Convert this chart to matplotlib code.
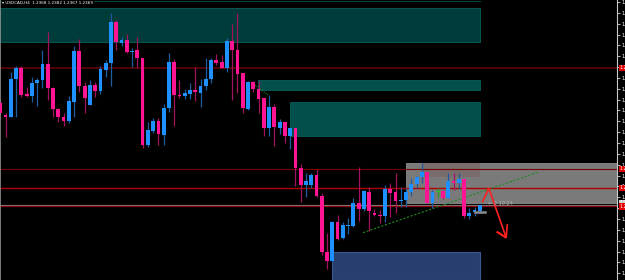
import numpy as np
import matplotlib
matplotlib.use("Agg")
import matplotlib.pyplot as plt
from matplotlib.patches import Rectangle
from matplotlib.ticker import MultipleLocator, FuncFormatter
from matplotlib.transforms import blended_transform_factory

TITLE = "\u25be USDCAD,H4  1.2368 1.2382 1.2367 1.2369"

# candles (0 = top edge of the chart)
opens = [103, 115, 117, 79, 68, 94, 96, 83, 80, 64, 88, 109, 117, 121, 102, 51, 86, 105, 85, 91,
         70, 63, 22, 43, 40, 52, 50, 58, 145, 131, 121, 135, 108, 62, 95, 96, 94, 90, 93, 86,
         79, 60, 62, 68, 41, 50, 73, 109, 82, 89, 98, 128, 107, 128, 122, 136, 128, 168, 185, 185,
         175, 196, 252, 261, 222, 238, 226, 226, 203, 209, 192, 213, 215, 216, 189, 192, 201, 200, 192, 184,
         177, 172, 203, 192, 191, 198, 181, 183, 179, 216, 212, 211]
highs = [100, 113, 72, 66, 66, 87, 77, 78, 50, 32, 87, 108, 113, 96, 46, 39, 82, 80, 82, 66,
         60, 13, 20, 37, 34, 48, 37, 58, 122, 118, 118, 104, 53, 59, 80, 89, 83, 67, 79, 58,
         58, 54, 55, 38, 24, 13, 73, 81, 81, 81, 98, 95, 104, 119, 122, 127, 128, 164, 173, 173,
         169, 193, 233, 221, 215, 222, 218, 198, 167, 190, 187, 209, 210, 185, 183, 173, 187, 188, 178, 176,
         163, 172, 190, 188, 190, 173, 173, 173, 179, 208, 207, 205]
lows = [115, 137, 117, 117, 97, 97, 102, 106, 88, 100, 117, 122, 126, 123, 117, 92, 113, 105, 97, 94,
        77, 86, 50, 46, 53, 67, 68, 148, 147, 133, 145, 145, 112, 126, 98, 99, 99, 101, 107, 90,
        83, 65, 68, 72, 100, 93, 113, 110, 92, 113, 136, 136, 146, 134, 143, 149, 186, 202, 197, 188,
        197, 255, 269, 262, 240, 239, 234, 227, 221, 211, 231, 216, 223, 222, 217, 213, 207, 207, 196, 188,
        183, 203, 208, 197, 199, 198, 190, 189, 218, 219, 216, 213]
closes = [113, 117, 79, 68, 95, 96, 83, 80, 64, 88, 109, 117, 121, 101, 51, 86, 98, 85, 91, 69,
          63, 22, 42, 40, 52, 51, 58, 145, 130, 121, 134, 108, 62, 95, 96, 93, 90, 92, 86, 79,
          60, 63, 68, 41, 50, 74, 108, 82, 89, 99, 128, 107, 127, 122, 136, 128, 168, 185, 181, 175,
          196, 252, 261, 222, 239, 225, 225, 203, 209, 191, 211, 215, 216, 189, 193, 201, 200, 192, 184, 177,
          172, 203, 192, 192, 198, 181, 183, 179, 216, 213, 210, 205]

# zones: (first candle, last candle or None = to the axis, top row, bottom row)
teal_zones = [(0, 91, 8, 42), (48.9, 91, 80, 90), (55.0, 91, 102, 136)]
gray_zone = (77.0, None, 163, 203)
rose_zone = (80.2, 91, 163, 177)
blue_zone = (62.9, 91, 252, 280)

# horizontal levels (row, colour, width)
levels = [(68, "#5c0000", 1.3), (169, "#7a0000", 0.8), (188, "#b00000", 1.0),
          (205.3, "#808080", 0.8), (206.4, "#8a0000", 0.9)]
axis_labels = [(68, "#e00000"), (169, "#e00000"), (188, "#e00000"), (203, "#d0d0d0"), (206.4, "#e00000")]

trend_x = [68.8, 102.0]
trend_row = [232.7, 172.3]
arrow_x = [91.5, 92.7, 96.0, 94.2, 96.0, 96.2]
arrow_row = [201.7, 188.3, 237.7, 231.7, 237.7, 225.0]

BULL = "#1e90ff"
BEAR = "#ff1493"
BULL_WICK = "#1d5c9e"
BEAR_WICK = "#a3125e"


def to_price(rows):
    # 10 pips every 10.85 rows, 1.2600 on row 2
    return 1.2600 - (np.asarray(rows, dtype=float) - 2) / 10.85 * 0.0010


o = to_price(opens)
h = to_price(highs)
l = to_price(lows)
c = to_price(closes)
x = np.arange(len(o))
one_px = 0.0010 / 10.85

fig = plt.figure(figsize=(6.25, 2.8), dpi=100, facecolor="black")
ax = fig.add_axes([0, 0, 617 / 625, 1], facecolor="black")
x_right = -0.057 + 617 / 5.27
ax.set_xlim(-0.057, x_right)
ax.set_ylim(to_price(280), to_price(0))

for x0, x1, r0, r1 in teal_zones:
    col = "#003d3a" if r0 < 20 else "#02504c"
    ax.add_patch(Rectangle((x0, to_price(r1)), x1 - x0, to_price(r0) - to_price(r1),
                           facecolor=col, edgecolor="#06605b", lw=0.6, zorder=0))
ax.plot([0, 91], [to_price(1), to_price(1)], color="#034440", lw=0.8, zorder=0)

gx0, _, gr0, gr1 = gray_zone
ax.add_patch(Rectangle((gx0, to_price(gr1)), x_right - gx0, to_price(gr0) - to_price(gr1),
                       facecolor="#7a7a7a", edgecolor="#8c8c8c", lw=0.6, zorder=0))
rx0, rx1, rr0, rr1 = rose_zone
ax.add_patch(Rectangle((rx0, to_price(rr1)), rx1 - rx0, to_price(rr0) - to_price(rr1),
                       facecolor="#786c6c", edgecolor="none", zorder=0.5))
bx0, bx1, br0, br1 = blue_zone
ax.add_patch(Rectangle((bx0, to_price(br1)), bx1 - bx0, to_price(br0) - to_price(br1),
                       facecolor="#283f6e", edgecolor="#3b5794", lw=0.8, zorder=0))

for row, col, lw in levels:
    ax.axhline(to_price(row), color=col, lw=lw, zorder=1)

ax.plot(trend_x, to_price(trend_row), color="#1f8a1f", lw=0.8, ls=(0, (2, 1.5)), zorder=1.5)
ax.plot([48.3, 50.8], to_price([85, 95]), color="#1f8a1f", lw=0.8, ls=(0, (1, 1)), zorder=1.5)

# candles: close above open in price is a bull bar
up = c > o
down = c < o
wick_cols = np.where(up, BULL_WICK, np.where(down, BEAR_WICK, "#20a020"))
body_cols = np.where(up, BULL, np.where(down, BEAR, "#30c030"))
ax.vlines(x, l, h, colors=wick_cols, lw=0.9, zorder=2)
bottoms = np.minimum(o, c)
heights = np.maximum(np.abs(c - o), one_px)
ax.bar(x, heights, bottom=bottoms, width=0.72, color=body_cols, lw=0, zorder=3)

ax.plot(arrow_x, to_price(arrow_row), color="#ff2020", lw=1.2, zorder=4,
        solid_joinstyle="miter")
ax.plot([90.1, 92.0], to_price([211.7, 211.7]), color="#8c8c8c", lw=1.8, zorder=4)
ax.text(92.6, to_price(204), "\u2190 2 10:24", color="#b0b0b0", fontsize=3.6,
        va="center", ha="left", zorder=5)

ax.text(0.004, 0.997, TITLE, transform=ax.transAxes, color="white", fontsize=3.0,
        va="top", ha="left", zorder=6,
        bbox=dict(facecolor="black", edgecolor="none", pad=0.6))

ax.yaxis.tick_right()
ax.yaxis.set_major_locator(MultipleLocator(0.0010))
ax.yaxis.set_major_formatter(FuncFormatter(lambda v, p: f"{v:.4f}"))
ax.tick_params(axis="y", colors="white", labelsize=3.6, length=2, width=0.5, pad=1)
ax.tick_params(axis="x", bottom=False, labelbottom=False)
for side in ["top", "bottom"]:
    ax.spines[side].set_visible(False)
ax.spines["right"].set_color("#c8c8c8")
ax.spines["right"].set_linewidth(0.8)
ax.spines["left"].set_color("#909090")
ax.spines["left"].set_linewidth(1.2)

tr = blended_transform_factory(ax.transAxes, ax.transData)
for row, col in axis_labels:
    ax.text(1.004, to_price(row), f"{to_price(row):.4f}", transform=tr, color="white",
            fontsize=3.4, va="center", ha="left", clip_on=False, zorder=7,
            bbox=dict(facecolor=col, edgecolor="none", pad=0.5))

fig.savefig("out.png", dpi=100, facecolor="black")
